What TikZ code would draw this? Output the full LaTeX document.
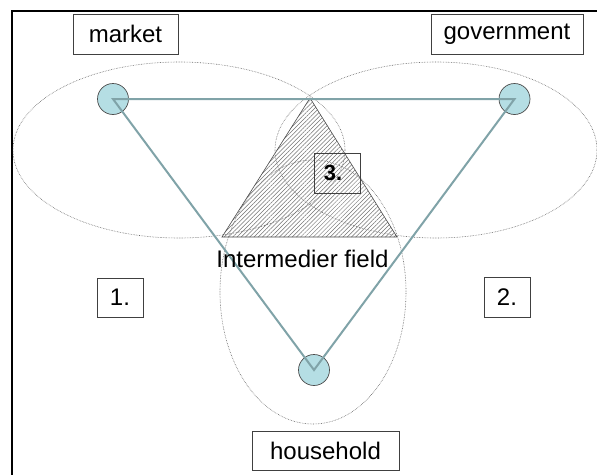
\documentclass[tikz,border=0pt]{standalone}
\usepackage{fontspec}
\setmainfont{Liberation Sans}
\usetikzlibrary{patterns.meta}
\definecolor{linkc}{HTML}{80A3A8}
\definecolor{dotfill}{HTML}{B5DEE4}
\begin{document}
\begin{tikzpicture}[x=1pt,y=-1pt,
  every node/.style={font=\fontsize{24}{28}\selectfont},
  label box/.style={draw=black!75, line width=0.7pt, inner sep=0pt, minimum height=40pt},
  actor/.style={circle, draw=black!70, fill=dotfill, line width=0.7pt, minimum size=31pt, inner sep=0pt},
  field/.style={draw=black!60, line width=0.6pt, densely dotted},
  link/.style={draw=linkc, line width=2pt, line join=miter},
  hatch/.style={draw=black!70, line width=0.6pt, pattern={Lines[angle=45,distance=3pt,line width=0.5pt]}, pattern color=black!55}]
\useasboundingbox (0,0) rectangle (597,474);
\fill[white] (0,0) rectangle (597,474);
% frame
\draw[line width=2pt] (12,480) -- (12,11) -- (605,11);
% fields
\draw[field] (179,150) ellipse [x radius=166pt, y radius=88pt];
\draw[field] (436,150) ellipse [x radius=161pt, y radius=88pt];
\draw[field] (313,292) ellipse [x radius=93pt, y radius=132pt];
% intermediate triangle
\coordinate (ta) at (310,98);
\coordinate (tl) at (222,237);
\coordinate (tr) at (397,237);
\draw[hatch] (ta) -- (tl) -- (tr) -- cycle;
% actors
\node[actor] (m) at (113,99) {};
\node[actor] (g) at (514.5,99) {};
\node[actor] (h) at (314,370) {};
\draw[link] (m.center) -- (g.center) -- (h.center) -- cycle;
% labels
\node[label box, minimum width=105pt] (lm) at (125.5,34) {market};
\node[label box, minimum width=152pt] (lg) at (507,34) {government};
\node[label box, minimum width=147pt, minimum height=39pt] (lh) at (325.5,450.5) {household};
\node[label box, minimum width=46pt, minimum height=39pt] (l1) at (120,297.5) {1.};
\node[label box, minimum width=46pt] (l2) at (507,297) {2.};
\node[label box, minimum width=46pt, font=\fontsize{22}{26}\selectfont\bfseries] (l3) at (337,173) {3.\hspace*{8pt}};
\node[inner sep=0pt] (lf) at (302.5,259) {Intermedier field};
\end{tikzpicture}
\end{document}
